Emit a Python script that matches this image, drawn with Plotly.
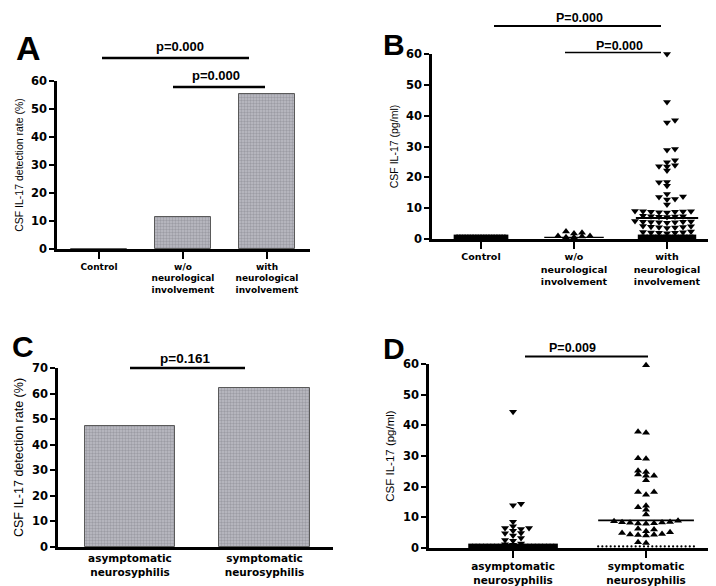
import plotly.graph_objects as go

W, H = 716, 586

# ---------------- data ----------------
A_categories = ["Control", "w/o<br>neurological<br>involvement", "with<br>neurological<br>involvement"]
A_rates = [0.0, 11.5, 55.2]
A_pvalues = ["p=0.000", "p=0.000"]

B_categories = A_categories
B_control_undetected = [0.7] * 20
B_wo_detected = [2.4, 1.8, 1.0, 0.6, 0.6, 0.8, 1.0, 2.0]
B_with_detected = [60.0, 44.4, 38.5, 37.8, 29.2, 28.9, 25.5, 24.9, 23.9, 23.6, 23.5, 22.2,
                   18.5, 18.4, 17.3, 14.6, 13.8, 13.6, 13.0, 12.8, 11.2,
                   9.0, 8.8, 8.9, 9.1, 8.7, 9.0, 8.6, 8.8,
                   7.4, 7.2, 7.5, 7.1, 7.3, 7.4,
                   5.6, 5.4, 5.5, 5.8, 5.3, 5.6, 5.4, 5.7,
                   4.0, 3.8, 4.2, 3.7, 3.9, 4.1, 3.6,
                   2.2, 2.0, 2.4, 1.9, 2.1, 2.3, 2.0]
B_with_undetected = [0.7] * 20
B_medians = [0.7, 0.5, 6.8]
B_pvalues = ["P=0.000", "P=0.000"]

C_categories = ["asymptomatic<br>neurosyphilis", "symptomatic<br>neurosyphilis"]
C_rates = [47.5, 62.0]
C_pvalue = "p=0.161"

D_categories = C_categories
D_asym_detected = [44.4, 14.4, 13.9, 8.6, 7.1, 6.5, 6.5, 6.2, 5.6, 4.9, 4.8, 4.1, 3.3,
                   2.6, 2.4, 1.5, 1.2, 1.1]
D_asym_undetected = [0.7] * 24
D_sym_detected = [59.6, 37.9, 37.6, 29.3, 29.1, 25.2, 24.8, 24.0, 23.6, 23.6, 22.1,
                  18.3, 18.3, 17.4, 13.8, 13.3, 12.5, 10.9,
                  8.9, 8.5, 8.3, 8.1, 7.9, 8.0, 8.2, 8.4, 8.7,
                  6.3, 5.5, 4.9, 4.4, 4.2, 4.1, 4.3, 4.6, 5.1, 6.0,
                  1.6, 1.9]
D_sym_undetected = [0.5] * 24
D_medians = [0.7, 9.0]
D_pvalue = "P=0.009"


# ---------------- helpers ----------------
def px(x):
    return x / W


def py(y):
    return 1 - y / H


def swarm(values, center, ppu_x, ppu_y, dx=8.0, dy=3.5):
    pts = []
    out = [None] * len(values)
    order = sorted(range(len(values)), key=lambda i: values[i])
    for n, i in enumerate(order):
        yv = values[i] * ppu_y
        found = None
        step = 0
        sgn = 1 if n % 2 == 0 else -1
        while found is None:
            cands = [0.0] if step == 0 else [sgn * step * 0.5, -sgn * step * 0.5]
            for xv in cands:
                if all(abs(xv - a) >= dx or abs(yv - b) >= dy for a, b in pts):
                    found = xv
                    break
            step += 1
        pts.append((found, yv))
        out[i] = center + found / ppu_x
    return out


def spread(n, center, half):
    if n == 1:
        return [center]
    return [center - half + 2 * half * k / (n - 1) for k in range(n)]


TICKFONT = dict(family="DejaVu Sans", size=11.5, color="black", weight="bold")
CATFONT_AB = dict(family="DejaVu Sans", size=9, color="black", weight="bold")
CATFONT_CD = dict(family="DejaVu Sans", size=10.5, color="black", weight="bold")
PFONT = dict(family="Liberation Sans, Arial", size=13, color="black", weight="bold")
LETTERFONT = dict(family="Liberation Sans, Arial", size=30, color="black", weight="bold")

fig = go.Figure()

bar_marker = dict(color="#a8a8b0",
                  pattern=dict(shape=".", size=3, solidity=0.5, fgcolor="#7c7c84", bgcolor="#bdbdc5"),
                  line=dict(color="#5a5a5a", width=1))

# ---------------- Panel A ----------------
fig.add_trace(go.Bar(x=[0, 1, 2], y=A_rates, width=0.66, marker=bar_marker,
                     xaxis="x", yaxis="y", showlegend=False))

# ---------------- Panel B ----------------
ppuBx, ppuBy = 93.0, 185 / 60
fig.add_trace(go.Scatter(x=spread(len(B_control_undetected), 0, 0.27), y=B_control_undetected,
                         mode="markers", marker=dict(symbol="square", size=4.5, color="black"),
                         xaxis="x2", yaxis="y2", showlegend=False, cliponaxis=False))
fig.add_trace(go.Scatter(x=swarm(B_wo_detected, 1, ppuBx, ppuBy), y=B_wo_detected,
                         mode="markers", marker=dict(symbol="triangle-up", size=7, color="black"),
                         xaxis="x2", yaxis="y2", showlegend=False, cliponaxis=False))
fig.add_trace(go.Scatter(x=spread(len(B_with_undetected), 2, 0.29), y=B_with_undetected,
                         mode="markers", marker=dict(symbol="square", size=4.5, color="black"),
                         xaxis="x2", yaxis="y2", showlegend=False, cliponaxis=False))
fig.add_trace(go.Scatter(x=swarm(B_with_detected, 2, ppuBx, ppuBy), y=B_with_detected,
                         mode="markers", marker=dict(symbol="triangle-down", size=7, color="black"),
                         xaxis="x2", yaxis="y2", showlegend=False, cliponaxis=False))

# ---------------- Panel C ----------------
fig.add_trace(go.Bar(x=[0, 1], y=C_rates, width=0.67, marker=bar_marker,
                     xaxis="x3", yaxis="y3", showlegend=False))

# ---------------- Panel D ----------------
ppuDx, ppuDy = 133.0, 184 / 60
fig.add_trace(go.Scatter(x=spread(len(D_asym_undetected), 0, 0.32), y=D_asym_undetected,
                         mode="markers", marker=dict(symbol="square", size=4.5, color="black"),
                         xaxis="x4", yaxis="y4", showlegend=False, cliponaxis=False))
fig.add_trace(go.Scatter(x=swarm(D_asym_detected, 0, ppuDx, ppuDy), y=D_asym_detected,
                         mode="markers", marker=dict(symbol="triangle-down", size=7, color="black"),
                         xaxis="x4", yaxis="y4", showlegend=False, cliponaxis=False))
fig.add_trace(go.Scatter(x=spread(len(D_sym_undetected), 1, 0.36), y=D_sym_undetected,
                         mode="markers", marker=dict(symbol="circle", size=2.2, color="black"),
                         xaxis="x4", yaxis="y4", showlegend=False, cliponaxis=False))
fig.add_trace(go.Scatter(x=swarm(D_sym_detected, 1, ppuDx, ppuDy), y=D_sym_detected,
                         mode="markers", marker=dict(symbol="triangle-up", size=7, color="black"),
                         xaxis="x4", yaxis="y4", showlegend=False, cliponaxis=False))


# ---------------- axes ----------------
def xax(domain, rng, tickvals, ticktext, font, ticks="outside", anchor="y"):
    return dict(domain=domain, range=rng, tickvals=tickvals, ticktext=ticktext,
                ticks=ticks, ticklen=7, tickwidth=2, tickcolor="black",
                showline=True, linewidth=2.5, linecolor="black", showgrid=False,
                zeroline=False, tickfont=font, anchor=anchor, automargin=False,
                fixedrange=True)


def yax(domain, rng, dtick, title, tsize, anchor="x", standoff=6):
    return dict(domain=domain, range=rng, tickmode="linear", tick0=0, dtick=dtick,
                ticks="outside", ticklen=5, tickwidth=2, tickcolor="black",
                showline=True, linewidth=2.5, linecolor="black", showgrid=False,
                zeroline=False, tickfont=TICKFONT, anchor=anchor, automargin=False,
                title=dict(text=title, font=dict(family="Liberation Sans, Arial", size=tsize, color="black"),
                           standoff=standoff),
                fixedrange=True)


fig.update_layout(
    width=W, height=H, margin=dict(l=0, r=0, t=0, b=0), autosize=False,
    paper_bgcolor="white", plot_bgcolor="white", showlegend=False, bargap=0,
    xaxis=xax([px(49), px(302)], [-0.5, 2.512], [0, 1, 2], A_categories, CATFONT_AB, anchor="y"),
    yaxis=yax([py(241), py(73)], [0, 60], 10, "CSF IL-17 detection rate (%)", 10.5, anchor="x"),
    xaxis2=xax([px(424), px(707)], [-0.527, 2.516], [0, 1, 2], B_categories,
               dict(CATFONT_AB, size=9.5), anchor="y2"),
    yaxis2=yax([py(231), py(46)], [0, 60], 10, "CSF IL-17 (pg/ml)", 10.5, anchor="x2"),
    xaxis3=xax([px(50), px(325)], [-0.535, 1.509], [0, 1], C_categories, CATFONT_CD,
               ticks="", anchor="y3"),
    yaxis3=yax([py(539), py(360)], [0, 70], 10, "CSF IL-17 detection rate (%)", 12.5, anchor="x3"),
    xaxis4=xax([px(421), px(708)], [-0.632, 1.526], [0, 1], D_categories, CATFONT_CD, anchor="y4"),
    yaxis4=yax([py(540), py(356)], [0, 60], 10, "CSF IL-17 (pg/ml)", 11.5, anchor="x4"),
)

shapes = []
annotations = []


def sig_line(x0, x1, y, w=2.5):
    shapes.append(dict(type="line", xref="paper", yref="paper", x0=px(x0), x1=px(x1),
                       y0=py(y), y1=py(y), line=dict(color="black", width=w)))


def label(text, x, y, font):
    annotations.append(dict(text=text, xref="paper", yref="paper", x=px(x), y=py(y),
                            xanchor="center", yanchor="middle", showarrow=False, font=font))


# Panel A
sig_line(94, 241, 50)
label(A_pvalues[0], 172, 39, PFONT)
sig_line(165, 257, 79)
label(A_pvalues[1], 208, 68, PFONT)
label("A", 20, 40, dict(LETTERFONT, size=34))

# Panel B
sig_line(486, 653, 18, 2.2)
label(B_pvalues[0], 571, 10, dict(PFONT, size=12.5))
sig_line(557, 653, 44.5, 1.6)
label(B_pvalues[1], 611, 38, dict(PFONT, size=12.5))
label("B", 386, 36, LETTERFONT)

B_halfwidths = [0.0, 0.32, 0.335]
for i, (m, hw) in enumerate(zip(B_medians, B_halfwidths)):
    if hw > 0:
        shapes.append(dict(type="line", xref="x2", yref="y2", x0=i - hw, x1=i + hw,
                           y0=m, y1=m, line=dict(color="black", width=2 if i == 2 else 1.2)))

# Panel C
sig_line(122, 237, 360)
label(C_pvalue, 177, 350, dict(PFONT, size=13.5))
label("C", 15, 338, LETTERFONT)

# Panel D
sig_line(517, 640, 348.5, 2.2)
label(D_pvalue, 564, 340, dict(PFONT, size=12.5))
label("D", 386, 340, LETTERFONT)

D_halfwidths = [0.0, 0.36]
for i, (m, hw) in enumerate(zip(D_medians, D_halfwidths)):
    if hw > 0:
        shapes.append(dict(type="line", xref="x4", yref="y4", x0=i - hw, x1=i + hw,
                           y0=m, y1=m, line=dict(color="black", width=1.6)))

fig.update_layout(shapes=shapes, annotations=annotations)

fig.write_html("out.html")
